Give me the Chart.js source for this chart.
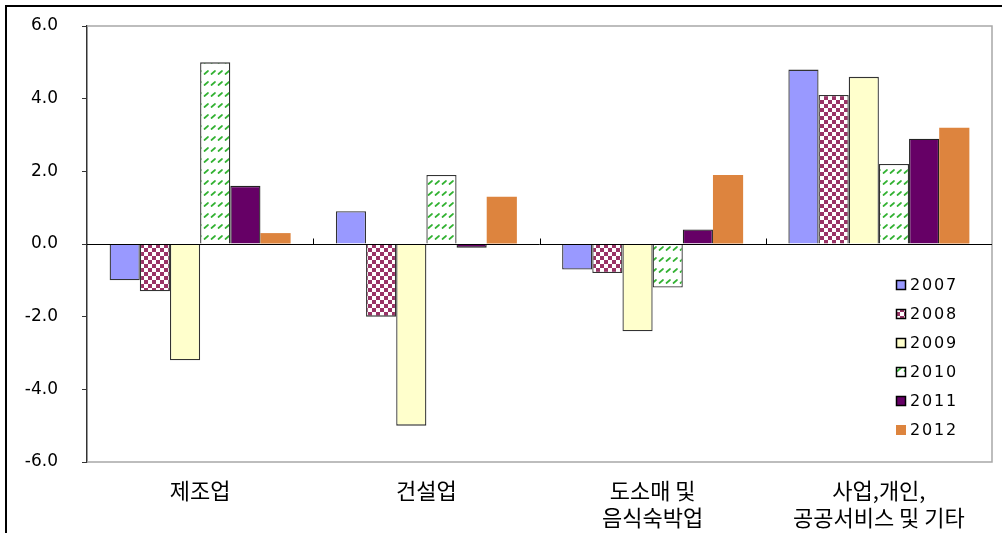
<!DOCTYPE html>
<html>
<head>
<meta charset="utf-8">
<script src="https://cdn.jsdelivr.net/npm/chart.js@4"></script>
<style>
  html, body { margin: 0; padding: 0; background: #fff; }
  #wrap { width: 1002px; height: 533px; }
</style>
</head>
<body>
<div id="wrap"><canvas id="chart" width="1002" height="533"></canvas></div>
<script>
const categories = ['제조업', '건설업', ['도소매 및', '음식숙박업'], ['사업,개인,', '공공서비스 및 기타']];
const years = ['2007', '2008', '2009', '2010', '2011', '2012'];
const v2007 = [-1.0, 0.9, -0.7, 4.8];
const v2008 = [-1.3, -2.0, -0.8, 4.1];
const v2009 = [-3.2, -5.0, -2.4, 4.6];
const v2010 = [5.0, 1.9, -1.2, 2.2];
const v2011 = [1.6, -0.1, 0.4, 2.9];
const v2012 = [0.3, 1.3, 1.9, 3.2];
const yMin = -6;
const yMax = 6;
const yStep = 2;

const makePattern = (w, h, paint) => {
  const c = document.createElement('canvas');
  c.width = w;
  c.height = h;
  paint(c.getContext('2d'));
  return document.getElementById('chart').getContext('2d').createPattern(c, 'repeat');
};

// purple / white checkerboard
const checker = makePattern(8, 8, (g) => {
  g.fillStyle = '#fff';
  g.fillRect(0, 0, 8, 8);
  g.fillStyle = '#993366';
  g.fillRect(0, 0, 4, 4);
  g.fillRect(4, 4, 4, 4);
});

// short green upward dashes on white
const dashes = makePattern(7.5, 11, (g) => {
  g.fillStyle = '#fff';
  g.fillRect(0, 0, 8, 11);
  g.strokeStyle = '#33b233';
  g.lineWidth = 1.7;
  g.lineCap = 'round';
  g.beginPath();
  g.moveTo(1.5, 8);
  g.lineTo(5, 5);
  g.stroke();
});

const seriesStyle = [
  { bg: '#9999ff', border: '#333', bw: 1.3 },
  { bg: checker, border: '#333', bw: 1.3 },
  { bg: '#ffffcc', border: '#333', bw: 1.3 },
  { bg: dashes, border: '#333', bw: 1.3 },
  { bg: '#660066', border: '#222', bw: 1.3 },
  { bg: '#dd843e', border: '#dd843e', bw: 0 }
];
const seriesData = [v2007, v2008, v2009, v2010, v2011, v2012];

const framePlugin = {
  id: 'frame',
  beforeDraw(chart) {
    const { ctx, width, height } = chart;
    ctx.save();
    ctx.fillStyle = '#fff';
    ctx.fillRect(0, 0, width, height);
    ctx.restore();
  },
  afterDatasetsDraw(chart) {
    const { ctx, chartArea: a, scales: { x, y } } = chart;
    ctx.save();
    // plot area outline
    ctx.strokeStyle = '#a8a8a8';
    ctx.lineWidth = 1.5;
    ctx.beginPath();
    ctx.moveTo(a.left, a.top);
    ctx.lineTo(a.right, a.top);
    ctx.lineTo(a.right, a.bottom);
    ctx.lineTo(a.left, a.bottom);
    ctx.stroke();

    // zero line + category separators
    const y0 = Math.round(y.getPixelForValue(0)) + 0.5;
    ctx.strokeStyle = '#000';
    ctx.lineWidth = 1;
    ctx.beginPath();
    ctx.moveTo(a.left, y0);
    ctx.lineTo(a.right, y0);
    for (let i = 1; i < categories.length; i++) {
      const px = Math.round((x.getPixelForTick(i - 1) + x.getPixelForTick(i)) / 2) + 0.5;
      ctx.moveTo(px, y0);
      ctx.lineTo(px, y0 - 6);
    }
    ctx.stroke();

    // legend
    ctx.font = '16px "DejaVu Sans"';
    ctx.letterSpacing = '1.8px';
    ctx.textBaseline = 'middle';
    ctx.fillStyle = '#000';
    years.forEach((yr, i) => {
      const cy = 285 + i * 29;
      const st = seriesStyle[i];
      ctx.fillStyle = st.bg;
      ctx.fillRect(896, cy - 5, 10, 10);
      if (st.bw) {
        ctx.strokeStyle = '#000';
        ctx.lineWidth = 1.5;
        ctx.strokeRect(896.5, cy - 4.5, 9, 9);
      }
      ctx.fillStyle = '#000';
      ctx.fillText(yr, 910, cy + 1);
    });
    ctx.restore();
  },
  afterDraw(chart) {
    const { ctx, width, height } = chart;
    ctx.save();
    ctx.strokeStyle = '#000';
    ctx.lineWidth = 2;
    ctx.beginPath();
    ctx.moveTo(6, height);
    ctx.lineTo(6, 6);
    ctx.lineTo(width, 6);
    ctx.stroke();
    ctx.restore();
  }
};

new Chart(document.getElementById('chart'), {
  type: 'bar',
  data: {
    labels: categories,
    datasets: years.map((yr, i) => ({
      label: yr,
      data: seriesData[i],
      backgroundColor: seriesStyle[i].bg,
      borderColor: seriesStyle[i].border,
      borderWidth: seriesStyle[i].bw,
      barPercentage: 1.0,
      categoryPercentage: 0.8
    }))
  },
  options: {
    responsive: false,
    animation: false,
    layout: { padding: { top: 26, right: 10, left: 0, bottom: 0 } },
    plugins: {
      legend: { display: false },
      tooltip: { enabled: false }
    },
    scales: {
      x: {
        grid: { display: false },
        border: { display: false },
        ticks: {
          color: '#000',
          padding: 7,
          maxRotation: 0,
          autoSkip: false,
          font: { family: '"Noto Sans CJK KR"', size: 22, lineHeight: 1.22 }
        },
        afterFit: (s) => { s.height = 71; }
      },
      y: {
        min: yMin,
        max: yMax,
        grid: { drawOnChartArea: false, drawTicks: true, tickLength: 5, color: '#333' },
        border: { display: true, color: '#333', width: 1.5 },
        ticks: {
          stepSize: yStep,
          color: '#000',
          padding: 24,
          font: { family: '"DejaVu Sans"', size: 17 },
          callback: (v) => v.toFixed(1)
        },
        afterFit: (s) => {
          s.width = 87;
          // tick padding would otherwise push the plot area down
          s.paddingTop = 0;
          s.paddingBottom = 0;
        }
      }
    }
  },
  plugins: [framePlugin]
});
</script>
</body>
</html>
